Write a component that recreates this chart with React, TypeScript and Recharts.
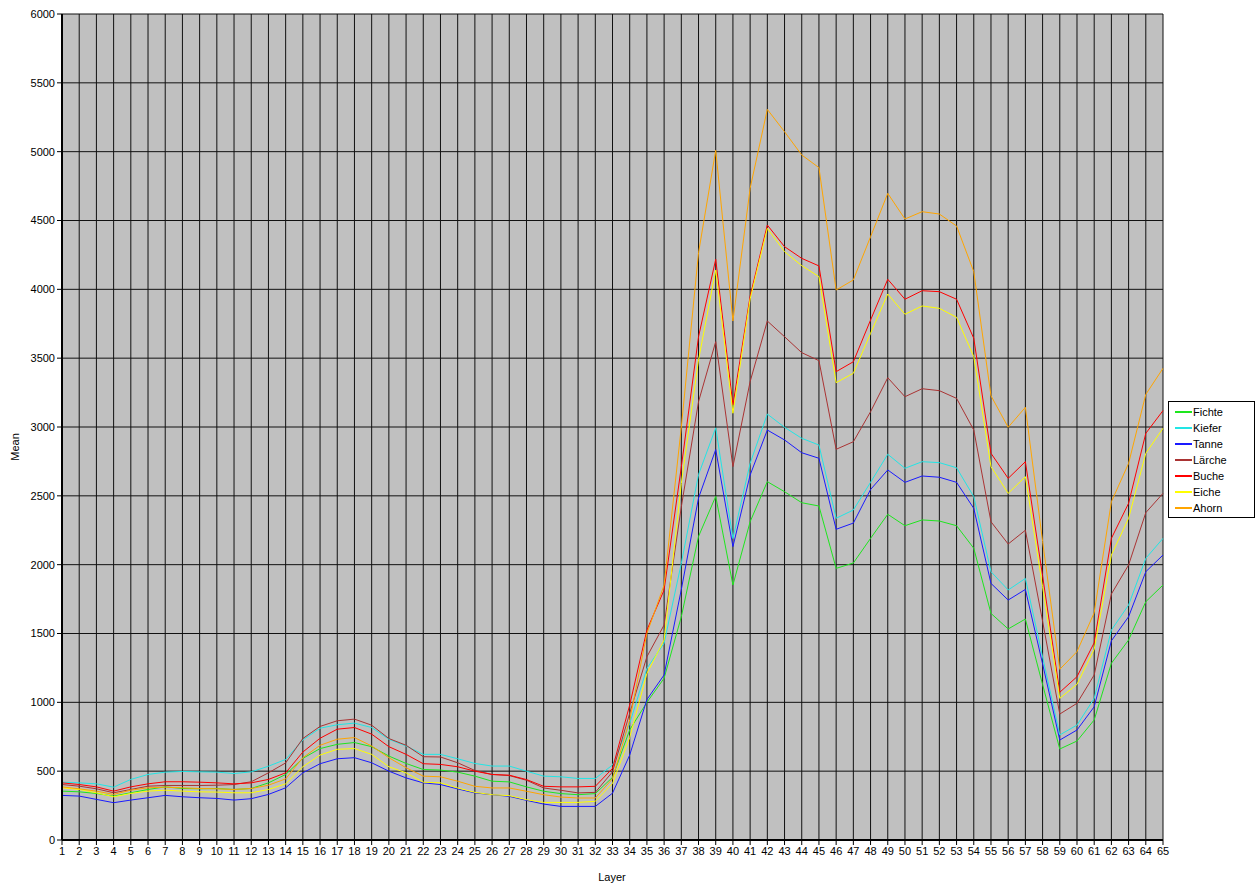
import { LineChart, Line, XAxis, YAxis, CartesianGrid, Legend, Label } from "recharts"

const layers = [
  1, 2, 3, 4, 5, 6, 7, 8, 9, 10, 11, 12, 13, 14, 15, 16, 17, 18, 19, 20, 21, 22,
  23, 24, 25, 26, 27, 28, 29, 30, 31, 32, 33, 34, 35, 36, 37, 38, 39, 40, 41, 42,
  43, 44, 45, 46, 47, 48, 49, 50, 51, 52, 53, 54, 55, 56, 57, 58, 59, 60, 61, 62,
  63, 64, 65,
]

const fichte = [
  355, 350, 338, 319, 343, 367, 386, 374, 372, 374, 367, 374, 415, 476,
  593, 664, 695,
  708, 678, 610, 556, 512, 508, 493, 464, 427, 422, 386, 354, 337, 329, 337, 455,
  800, 1000, 1175, 1622, 2205,
  2496, 1852, 2312, 2603, 2530, 2450, 2426, 1973, 2012,
  2191, 2366, 2283, 2325, 2317, 2283, 2119,
  1646, 1533, 1605, 1130,
  661, 719, 872, 1284, 1453, 1731, 1852,
]

const kiefer = [
  420, 415, 408, 384, 440, 476, 493, 498, 495, 493, 483, 495, 536, 585,
  727, 812, 837,
  849, 817, 732, 683, 622, 622, 590, 556, 537, 537, 500, 464, 459, 447, 447, 545,
  847, 1247, 1429, 2010, 2654,
  2994, 2190, 2736, 3094, 2998, 2918, 2869, 2337, 2397,
  2598, 2802, 2700, 2748, 2741, 2704, 2494,
  1949, 1816, 1900, 1330,
  763, 835, 1029, 1525, 1707, 2046, 2191,
]

const tanne = [
  324, 319, 295, 271, 290, 307, 324, 314, 307, 302, 290, 300, 331, 379,
  488, 554, 590,
  598, 561, 500, 451, 415, 403, 371, 342, 329, 317, 288, 261, 244, 244, 244, 340,
  617, 1020, 1199, 1820, 2484,
  2836, 2131, 2651, 2978, 2906, 2813, 2773, 2257, 2302,
  2546, 2688, 2598, 2644, 2635, 2598, 2409,
  1864, 1743, 1820, 1280,
  726, 799, 968, 1447, 1622, 1949, 2070,
]

const laerche = [
  403, 391, 372, 343, 367, 391, 396, 396, 396, 398, 403, 423, 488, 560,
  737, 825, 866,
  878, 834, 737, 688, 605, 603, 561, 505, 476, 468, 434, 378, 361, 342, 346, 495,
  920, 1331, 1562, 2420, 3184,
  3620, 2712, 3330, 3770, 3656, 3540, 3482, 2838, 2893,
  3111, 3358, 3220, 3278, 3264, 3208, 2978,
  2312, 2150, 2250, 1590,
  915, 993, 1199, 1787, 1998, 2378, 2518,
]

const buche = [
  415, 403, 386, 355, 386, 408, 423, 423, 420, 415, 408, 415, 440, 488,
  639, 739, 805,
  817, 769, 678, 622, 554, 549, 532, 500, 476, 471, 439, 390, 386, 386, 390, 520,
  980, 1525, 1816, 2710, 3656,
  4218, 3160, 3950, 4467, 4310, 4225, 4170, 3402, 3474,
  3777, 4073, 3928, 3990, 3983, 3928, 3644,
  2809, 2627, 2748, 1920,
  1073, 1186, 1433, 2191, 2446, 2954, 3119,
]

const eiche = [
  379, 367, 343, 314, 338, 355, 362, 355, 350, 348, 343, 343, 367, 408,
  532, 617, 659,
  664, 622, 532, 488, 420, 415, 378, 346, 329, 322, 293, 273, 273, 273, 281, 410,
  745, 1210, 1453, 2590, 3487,
  4140, 3100, 3930, 4443, 4274, 4172, 4092, 3322, 3390,
  3680, 3966, 3819, 3879, 3862, 3797, 3511,
  2712, 2518, 2639, 1840,
  1029, 1131, 1385, 2070, 2337, 2809, 2991,
]

const ahorn = [
  386, 372, 355, 331, 362, 379, 384, 379, 374, 372, 367, 374, 398, 444,
  598, 688, 732,
  744, 683, 598, 525, 464, 459, 427, 390, 378, 378, 354, 329, 312, 305, 305, 445,
  872, 1500, 1852, 3000, 4265,
  5010, 3770, 4734, 5307, 5145, 4976, 4884, 3995, 4068,
  4382, 4697, 4511, 4564, 4547, 4460, 4128,
  3227, 2998, 3143, 2170,
  1240, 1368, 1651, 2457, 2736, 3237, 3426,
]

const yTicks = [0, 500, 1000, 1500, 2000, 2500, 3000, 3500, 4000, 4500, 5000, 5500, 6000]

const series = [
  { key: "Fichte", color: "#1ee61e", values: fichte },
  { key: "Kiefer", color: "#22e5e5", values: kiefer },
  { key: "Tanne", color: "#1a1aff", values: tanne },
  { key: "Lärche", color: "#aa3333", values: laerche },
  { key: "Buche", color: "#ff0000", values: buche },
  { key: "Eiche", color: "#ffff00", values: eiche },
  { key: "Ahorn", color: "#ffa500", values: ahorn },
]

const data = layers.map((layer, i) => {
  const row: Record<string, number> = { layer }
  series.forEach((s) => {
    row[s.key] = s.values[i]
  })
  return row
})

const font = "'Liberation Sans', Arial, sans-serif"

// legend box drawn like the old windows chart control
function LegendBox() {
  return (
    <div
      style={{
        background: "#fff",
        border: "1px solid #000",
        width: 87,
        height: 117,
        boxSizing: "border-box",
        padding: "2px 0 0 6px",
        fontFamily: font,
        fontSize: 11,
        color: "#000",
      }}
    >
      {series.map((s) => (
        <div key={s.key} style={{ display: "flex", alignItems: "center", height: 16 }}>
          <span style={{ display: "inline-block", width: 17, height: 2, background: s.color, marginRight: 1 }} />
          <span>{s.key}</span>
        </div>
      ))}
    </div>
  )
}

export default function App() {
  return (
    <div style={{ position: "absolute", left: 0, top: 0, background: "#fff" }}>
      {/* legend width (87) gets added to the right offset, so right margin is 92 - 87 */}
      <LineChart
        width={1255}
        height={884}
        data={data}
        margin={{ top: 14, right: 5, left: 0, bottom: 0 }}
        style={{ fontFamily: font }}
      >
        <CartesianGrid fill="#c0c0c0" fillOpacity={1} stroke="#111" strokeWidth={1} />
        <XAxis
          type="number"
          dataKey="layer"
          domain={[1, 65]}
          ticks={layers}
          interval={0}
          height={44}
          tickSize={5}
          tickMargin={2}
          tick={{ fill: "#000", fontSize: 11 }}
          tickLine={{ stroke: "#000" }}
          axisLine={{ stroke: "#000", strokeWidth: 2 }}
        >
          <Label
            content={() => (
              <text x={612} y={881} textAnchor="middle" fontSize={11} fill="#000" fontFamily={font}>
                Layer
              </text>
            )}
          />
        </XAxis>
        <YAxis
          width={62}
          domain={[0, 6000]}
          ticks={yTicks}
          interval={0}
          tickSize={5}
          tickMargin={2}
          tick={{ fill: "#000", fontSize: 11 }}
          tickLine={{ stroke: "#000" }}
          axisLine={{ stroke: "#000", strokeWidth: 2 }}
        >
          <Label
            content={() => (
              <text
                x={19}
                y={447}
                transform="rotate(-90 19 447)"
                textAnchor="middle"
                fontSize={11}
                fill="#000"
                fontFamily={font}
              >
                Mean
              </text>
            )}
          />
        </YAxis>
        <Legend
          layout="horizontal"
          verticalAlign="middle"
          align="right"
          content={() => <LegendBox />}
          wrapperStyle={{ left: 1168, top: 401, width: 87 }}
        />
        {series.map((s) => (
          <Line
            key={s.key}
            type="linear"
            dataKey={s.key}
            stroke={s.color}
            strokeWidth={1}
            dot={false}
            isAnimationActive={false}
          />
        ))}
      </LineChart>
    </div>
  )
}
